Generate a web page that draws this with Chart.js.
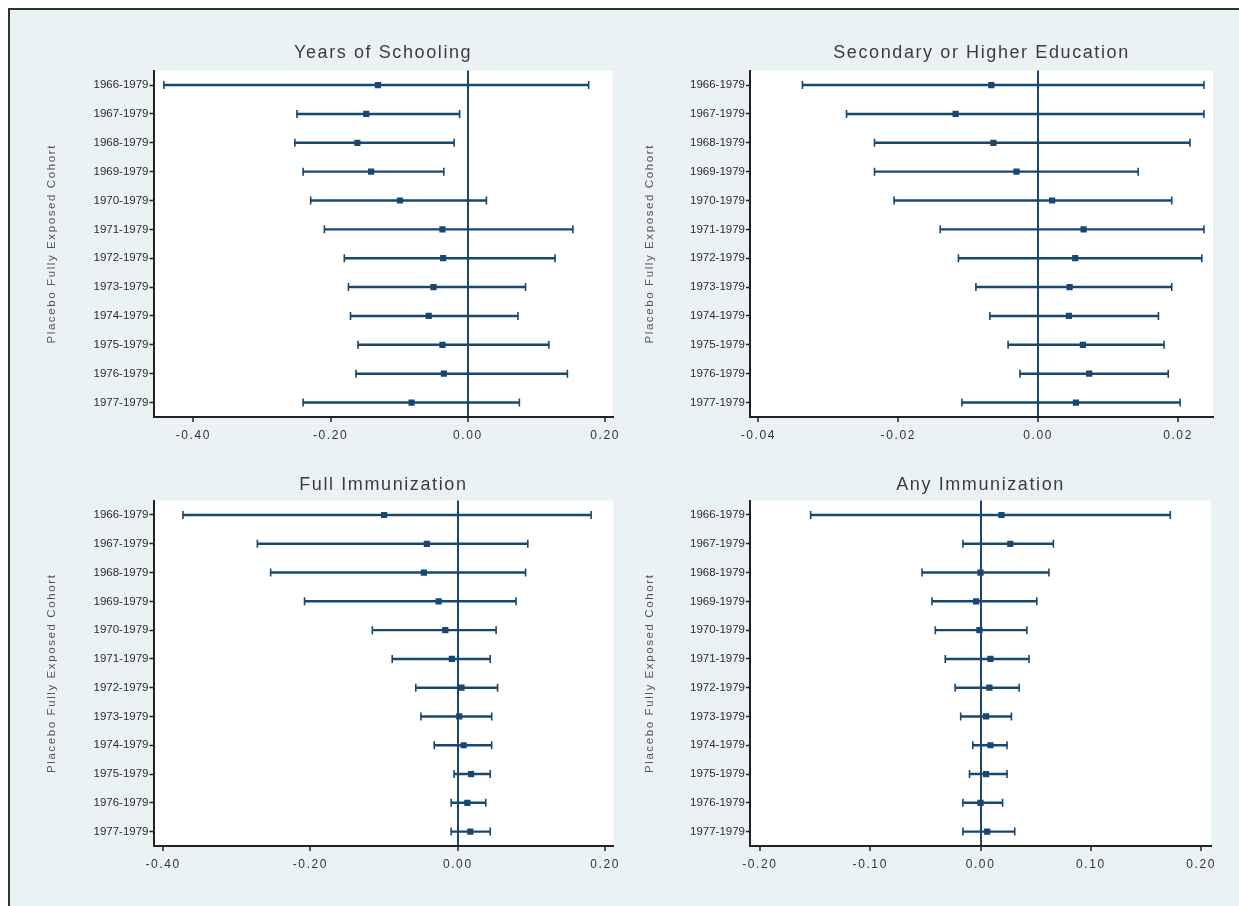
<!DOCTYPE html>
<html>
<head>
<meta charset="utf-8">
<script src="https://cdn.jsdelivr.net/npm/chart.js@4.4.1/dist/chart.umd.min.js"></script>
<style>
  body { margin: 0; background: #fff; width: 1239px; height: 906px; overflow: hidden; position: relative; }
  #frame { position: absolute; left: 8px; top: 8px; width: 1240px; height: 910px;
           background: #eaf2f3; border-left: 2px solid #333; border-top: 2px solid #333; }
  canvas { position: absolute; }
</style>
</head>
<body>
<div id="frame"></div>
<canvas id="c1" style="left:10px;top:30px;width:613px;height:427px"></canvas>
<canvas id="c2" style="left:608px;top:30px;width:611px;height:427px"></canvas>
<canvas id="c3" style="left:10px;top:462px;width:613px;height:424px"></canvas>
<canvas id="c4" style="left:608px;top:462px;width:611px;height:424px"></canvas>
<script>
// Cohortes placebo (eixo vertical)
const cohorts = ['1966-1979', '1967-1979', '1968-1979', '1969-1979', '1970-1979', '1971-1979',
                 '1972-1979', '1973-1979', '1974-1979', '1975-1979', '1976-1979', '1977-1979'];

// Years of Schooling
const schoolEst = [-0.131, -0.148, -0.161, -0.141, -0.099, -0.037, -0.036, -0.050, -0.057, -0.037, -0.035, -0.082];
const schoolLo  = [-0.443, -0.249, -0.252, -0.240, -0.229, -0.209, -0.180, -0.174, -0.171, -0.160, -0.163, -0.240];
const schoolHi  = [0.176, -0.012, -0.020, -0.035, 0.027, 0.153, 0.127, 0.084, 0.073, 0.118, 0.145, 0.075];
const schoolTicks = [-0.4, -0.2, 0, 0.2];

// Secondary or Higher Education
const secEst = [-0.0067, -0.0118, -0.0064, -0.0031, 0.0020, 0.0065, 0.0053, 0.0045, 0.0044, 0.0064, 0.0073, 0.0054];
const secLo  = [-0.0337, -0.0274, -0.0234, -0.0234, -0.0206, -0.0140, -0.0114, -0.0089, -0.0069, -0.0043, -0.0026, -0.0109];
const secHi  = [0.0237, 0.0237, 0.0217, 0.0143, 0.0191, 0.0237, 0.0234, 0.0191, 0.0172, 0.0180, 0.0186, 0.0203];
const secTicks = [-0.04, -0.02, 0, 0.02];

// Full Immunization
const fullEst = [-0.100, -0.042, -0.046, -0.026, -0.017, -0.008, 0.005, 0.002, 0.008, 0.018, 0.013, 0.017];
const fullLo  = [-0.373, -0.272, -0.254, -0.208, -0.116, -0.089, -0.057, -0.050, -0.032, -0.005, -0.009, -0.009];
const fullHi  = [0.181, 0.095, 0.092, 0.079, 0.052, 0.044, 0.054, 0.046, 0.046, 0.044, 0.038, 0.044];
const fullTicks = [-0.4, -0.2, 0, 0.2];

// Any Immunization
const anyEst = [0.019, 0.027, 0.000, -0.004, -0.001, 0.009, 0.008, 0.005, 0.009, 0.005, 0.000, 0.006];
const anyLo  = [-0.154, -0.016, -0.053, -0.044, -0.041, -0.032, -0.023, -0.018, -0.007, -0.010, -0.016, -0.016];
const anyHi  = [0.172, 0.066, 0.062, 0.051, 0.042, 0.044, 0.035, 0.028, 0.024, 0.024, 0.020, 0.031];
const anyTicks = [-0.2, -0.1, 0, 0.1, 0.2];

const NAVY = '#1a476f';
const FONT = "'Liberation Sans', Arial, sans-serif";

// fundo branco só na área do gráfico + espaçamento de letras (estilo Stata)
const plotBg = {
    id: 'plotBg',
    beforeDraw(chart) {
        const a = chart.chartArea;
        const ctx = chart.ctx;
        ctx.save();
        ctx.fillStyle = '#fff';
        ctx.fillRect(a.left, a.top, a.right - a.left, a.bottom - a.top);
        ctx.restore();
        ctx.letterSpacing = '1.6px';
    },
    afterDatasetsDraw(chart) {
        // rótulos do eixo y são desenhados depois (z: 1), sem espaçamento
        chart.ctx.letterSpacing = '0px';
    }
};

function makePanel(id, title, est, lo, hi, ticks, xmin, xmax, yWidth, titlePad, rightPad) {
    const caps = [];
    cohorts.forEach((c, i) => {
        caps.push({ x: lo[i], y: c });
        caps.push({ x: hi[i], y: c });
    });

    return new Chart(document.getElementById(id), {
        type: 'bar',
        data: {
            labels: cohorts,
            datasets: [{
                type: 'line',
                data: est.map((v, i) => ({ x: v, y: cohorts[i] })),
                showLine: false,
                pointStyle: 'rect',
                pointRadius: 4.4,
                pointBackgroundColor: NAVY,
                pointBorderColor: NAVY,
                pointBorderWidth: 0,
                order: 1
            }, {
                type: 'line',
                data: caps,
                showLine: false,
                pointStyle: 'line',
                rotation: 90,
                pointRadius: 4,
                pointBorderColor: NAVY,
                pointBorderWidth: 1.6,
                order: 2
            }, {
                data: lo.map((v, i) => [v, hi[i]]),
                backgroundColor: NAVY,
                barThickness: 1.8,
                order: 3
            }]
        },
        options: {
            indexAxis: 'y',
            responsive: false,
            animation: false,
            layout: { padding: { left: 0, right: rightPad, top: 0, bottom: 0 } },
            plugins: {
                legend: { display: false },
                tooltip: { enabled: false },
                title: {
                    display: true,
                    text: title,
                    fullSize: false,
                    color: '#3b3b45',
                    font: { family: FONT, size: 18, weight: 'normal' },
                    padding: titlePad
                }
            },
            scales: {
                x: {
                    type: 'linear',
                    min: xmin,
                    max: xmax,
                    afterBuildTicks: s => { s.ticks = ticks.map(v => ({ value: v })); },
                    afterFit: s => { s.height = 40; },
                    border: { color: '#222', width: 2 },
                    grid: {
                        color: c => (c.tick && c.tick.value === 0 ? NAVY : 'rgba(0,0,0,0)'),
                        lineWidth: 2,
                        tickColor: '#222',
                        tickWidth: 1.5,
                        tickLength: 5
                    },
                    ticks: {
                        color: '#333',
                        font: { family: FONT, size: 12 },
                        padding: 6,
                        maxRotation: 0,
                        callback: v => Number(v).toFixed(2)
                    }
                },
                y: {
                    type: 'category',
                    afterFit: s => { s.width = yWidth; },
                    border: { color: '#222', width: 2 },
                    grid: {
                        offset: false,
                        drawOnChartArea: false,
                        tickColor: '#222',
                        tickWidth: 1.5,
                        tickLength: 4
                    },
                    ticks: {
                        z: 1,
                        color: '#2b2b2b',
                        font: { family: FONT, size: 11.5 },
                        padding: 1,
                        autoSkip: false
                    },
                    title: {
                        display: true,
                        text: 'Placebo Fully Exposed Cohort',
                        color: '#555',
                        font: { family: FONT, size: 11.5 },
                        padding: { top: 35, bottom: 0 }
                    }
                }
            }
        },
        plugins: [plotBg]
    });
}

makePanel('c1', 'Years of Schooling', schoolEst, schoolLo, schoolHi, schoolTicks, -0.458, 0.211, 143.5, { top: 12, bottom: 7 }, 3);
makePanel('c2', 'Secondary or Higher Education', secEst, secLo, secHi, secTicks, -0.0412, 0.025, 142, { top: 12, bottom: 7 }, 6);
makePanel('c3', 'Full Immunization', fullEst, fullLo, fullHi, fullTicks, -0.413, 0.211, 143.5, { top: 12, bottom: 5 }, 3);
makePanel('c4', 'Any Immunization', anyEst, anyLo, anyHi, anyTicks, -0.209, 0.209, 142, { top: 12, bottom: 5 }, 6);
</script>
</body>
</html>
